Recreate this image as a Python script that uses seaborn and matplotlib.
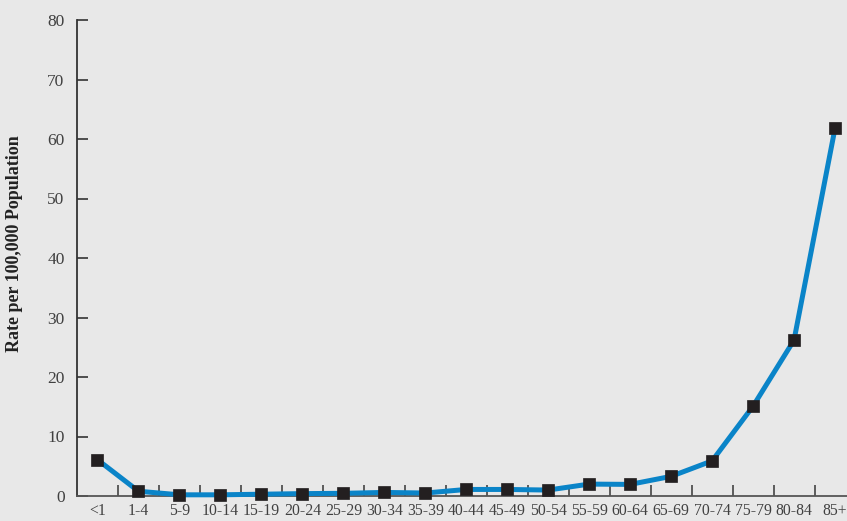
import matplotlib
matplotlib.use("Agg")
import matplotlib.pyplot as plt
import seaborn as sns
import pandas as pd

age_groups = ["<1", "1-4", "5-9", "10-14", "15-19", "20-24", "25-29", "30-34", "35-39",
              "40-44", "45-49", "50-54", "55-59", "60-64", "65-69", "70-74", "75-79",
              "80-84", "85+"]
rates = [6.1, 0.8, 0.2, 0.2, 0.3, 0.4, 0.45, 0.6, 0.5,
         1.1, 1.1, 1.0, 2.0, 1.95, 3.3, 5.9, 15.1, 26.2, 61.8]
y_ticks = [0, 10, 20, 30, 40, 50, 60, 70, 80]

df = pd.DataFrame({"age": age_groups, "rate": rates, "pos": range(len(age_groups))})

sns.set_theme(style="white")
plt.rcParams["font.family"] = ["Liberation Serif", "DejaVu Serif"]

bg = "#e8e8e8"
fig = plt.figure(figsize=(8.47, 5.21), dpi=100, facecolor=bg)
left = 77 / 847
bottom = (521 - 496) / 521
height = (496 - 20) / 521
width = (97 + 18.5 * 41 - 77) / 847
ax = fig.add_axes([left, bottom, width, height], facecolor=bg)

sns.lineplot(data=df, x="pos", y="rate", ax=ax, color="#0a84c8", linewidth=3.6,
             marker="s", markersize=8.6, markerfacecolor="#231f20",
             markeredgecolor="#231f20", markeredgewidth=0.5, zorder=3, clip_on=False)

ax.set_xlim(-0.5, 18.5)
ax.set_ylim(0, 80)
ax.set_yticks(y_ticks)
ax.set_yticklabels([str(v) for v in y_ticks], fontsize=12.5, color="#404040")
ax.set_xticks(df["pos"])
ax.set_xticklabels(age_groups, fontsize=11.3, color="#404040")
ax.tick_params(axis="x", which="major", bottom=True, length=0, pad=5)
ax.tick_params(axis="y", which="major", left=True, direction="in", length=8, width=1.2,
               color="#333333", pad=9)

ax.set_xticks([p + 0.5 for p in range(len(age_groups) - 1)], minor=True)
ax.tick_params(axis="x", which="minor", bottom=True, direction="in", length=8, width=1.2,
               color="#444444")

for s in ["top", "right"]:
    ax.spines[s].set_visible(False)
ax.spines["left"].set_color("#333333")
ax.spines["left"].set_linewidth(1.3)
ax.spines["bottom"].set_color("#555555")
ax.spines["bottom"].set_linewidth(1.3)

ax.set_xlabel("")
ax.set_ylabel("")
ax.grid(False)
fig.text(15 / 847, 1 - 244 / 521, "Rate per 100,000 Population", rotation=90,
         ha="center", va="center", fontsize=13, fontweight="bold", color="#222222")

fig.savefig("out.png", dpi=100, facecolor=bg)
